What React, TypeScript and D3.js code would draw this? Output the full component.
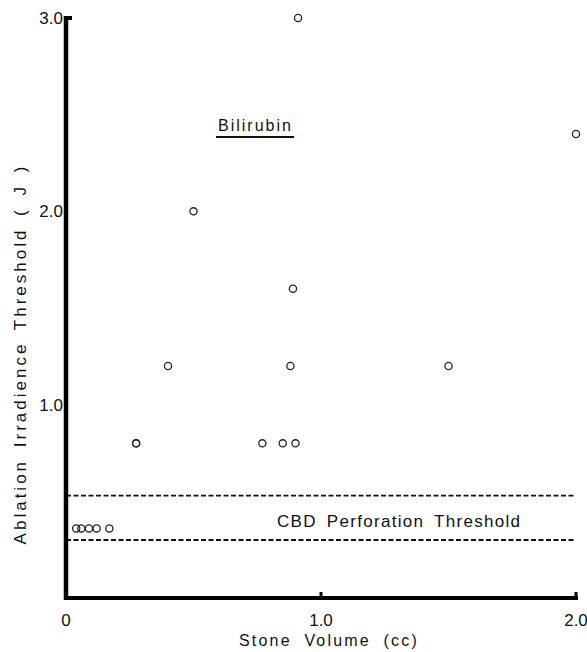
import React from 'react';
import * as d3 from 'd3';

// values
const stoneVolume = [0.91, 2.0, 0.5, 0.89, 0.4, 0.88, 1.5, 0.275, 0.275, 0.77, 0.85, 0.9, 0.04, 0.06, 0.09, 0.12, 0.17];
const threshold = [3.0, 2.4, 2.0, 1.6, 1.2, 1.2, 1.2, 0.8, 0.8, 0.8, 0.8, 0.8, 0.36, 0.36, 0.36, 0.36, 0.36];
const xTicks = [0, 1, 2];
const xTickLabels = ['0', '1.0', '2.0'];
const yTicks = [1, 2, 3];
const yTickLabels = ['1.0', '2.0', '3.0'];
const perforationBand = [0.3, 0.53];

const W = 587;
const H = 652;
const font = '"Liberation Sans", Arial, sans-serif';

export default function App() {
  const x = d3.scaleLinear().domain([0, 2]).range([66, 576]);
  const y = d3.scaleLinear().domain([0, 3]).range([598, 18]);

  return (
    <svg width={W} height={H} style={{ position: 'absolute', left: 0, top: 0, background: '#fff' }} fontFamily={font}>
      {/* CBD perforation band */}
      {perforationBand.map((v, i) => (
        <line key={'d' + i} x1={x(0)} x2={x(2)} y1={y(v)} y2={y(v)}
          stroke="#111" strokeWidth={1.8} strokeDasharray="5 2.5" />
      ))}
      <text x={277} y={527} fontSize={17} letterSpacing={1.3} wordSpacing={4} fill="#111">CBD Perforation Threshold</text>

      {/* Bilirubin label */}
      <text x={218} y={131} fontSize={16} letterSpacing={2} fill="#111">Bilirubin</text>
      <line x1={216} x2={294} y1={137} y2={137} stroke="#111" strokeWidth={2.2} />

      {/* points */}
      {stoneVolume.map((v, i) => (
        <circle key={'p' + i} cx={x(v)} cy={y(threshold[i])} r={3.6}
          fill="none" stroke="#222" strokeWidth={1.3} />
      ))}

      {/* axes */}
      <line x1={x(0)} x2={x(0)} y1={y(3) - 2} y2={y(0) + 2} stroke="#000" strokeWidth={4.5} />
      <line x1={x(0) - 2} x2={x(2) + 2} y1={y(0)} y2={y(0)} stroke="#000" strokeWidth={4} />
      <line x1={x(0)} x2={x(0) + 6} y1={y(3)} y2={y(3)} stroke="#000" strokeWidth={4} />
      {xTicks.slice(1).map((t) => (
        <line key={'xt' + t} x1={x(t)} x2={x(t)} y1={y(0)} y2={y(0) - 6} stroke="#000" strokeWidth={3} />
      ))}

      {/* tick labels */}
      {xTicks.map((t, i) => (
        <text key={'xl' + t} x={x(t)} y={626} fontSize={17} textAnchor="middle" fill="#111">{xTickLabels[i]}</text>
      ))}
      {yTicks.map((t, i) => (
        <text key={'yl' + t} x={63} y={y(t) + 6} fontSize={17} textAnchor="end" fill="#111">{yTickLabels[i]}</text>
      ))}

      {/* axis titles */}
      <text x={329} y={646} fontSize={16} textAnchor="middle" letterSpacing={2.2} wordSpacing={6} fill="#111">Stone Volume (cc)</text>
      <text transform="translate(26,354) rotate(-90)" fontSize={17} textAnchor="middle" letterSpacing={3} wordSpacing={4} fill="#111">
        Ablation Irradience Threshold ( J )
      </text>
    </svg>
  );
}
